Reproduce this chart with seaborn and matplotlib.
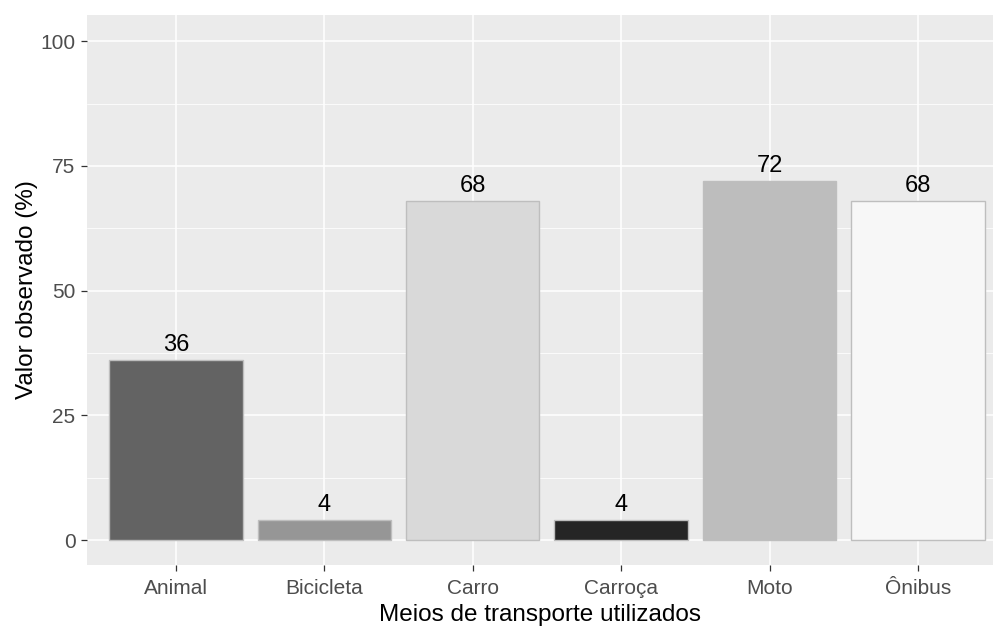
import matplotlib
matplotlib.use("Agg")
import matplotlib.pyplot as plt
import pandas as pd
import seaborn as sns

# dados
meios = ["Animal", "Bicicleta", "Carro", "Carroça", "Moto", "Ônibus"]
valores = [36, 4, 68, 4, 72, 68]
cores = ["#636363", "#969696", "#D9D9D9", "#252525", "#BDBDBD", "#F7F7F7"]

df = pd.DataFrame({"meio": meios, "valor": valores})

sns.set_theme(style="darkgrid", rc={
    "axes.facecolor": "#EBEBEB",
    "grid.color": "white",
    "axes.edgecolor": "#EBEBEB",
})
plt.rcParams["font.family"] = ["Liberation Sans", "DejaVu Sans"]

fig = plt.figure(figsize=(9.93, 6.28), dpi=100)
ax = fig.add_axes([0.0881, 0.1003, 0.9119, 0.8763])

sns.barplot(data=df, x="meio", y="valor", hue="meio", palette=dict(zip(meios, cores)),
            order=meios, width=0.9, edgecolor="#BEBEBE", linewidth=1.0,
            legend=False, ax=ax, zorder=3)

for c in ax.containers:
    ax.bar_label(c, fmt="%d", padding=3, fontsize=17, color="black")

ax.set_xlim(-0.596, 5.506)
ax.set_ylim(-5, 105.3)
ax.set_yticks([0, 25, 50, 75, 100])
ax.set_yticks([12.5, 37.5, 62.5, 87.5], minor=True)
ax.grid(True, which="major", color="white", linewidth=1.1, zorder=0)
ax.grid(True, which="minor", axis="y", color="white", linewidth=0.55, zorder=0)
ax.set_axisbelow(True)
for s in ax.spines.values():
    s.set_visible(False)

ax.tick_params(axis="both", which="major", length=4.3, width=0.9, color="#333333",
               labelsize=15, labelcolor="#4D4D4D", bottom=True, left=True)
ax.tick_params(axis="x", pad=5.5)
ax.tick_params(axis="y", pad=4.3)
ax.tick_params(which="minor", length=0)

ax.set_xlabel("Meios de transporte utilizados", fontsize=17.5, color="black", labelpad=4.5)
ax.set_ylabel("Valor observado (%)", fontsize=17.5, color="black", labelpad=2)

fig.savefig("out.png", dpi=100)
